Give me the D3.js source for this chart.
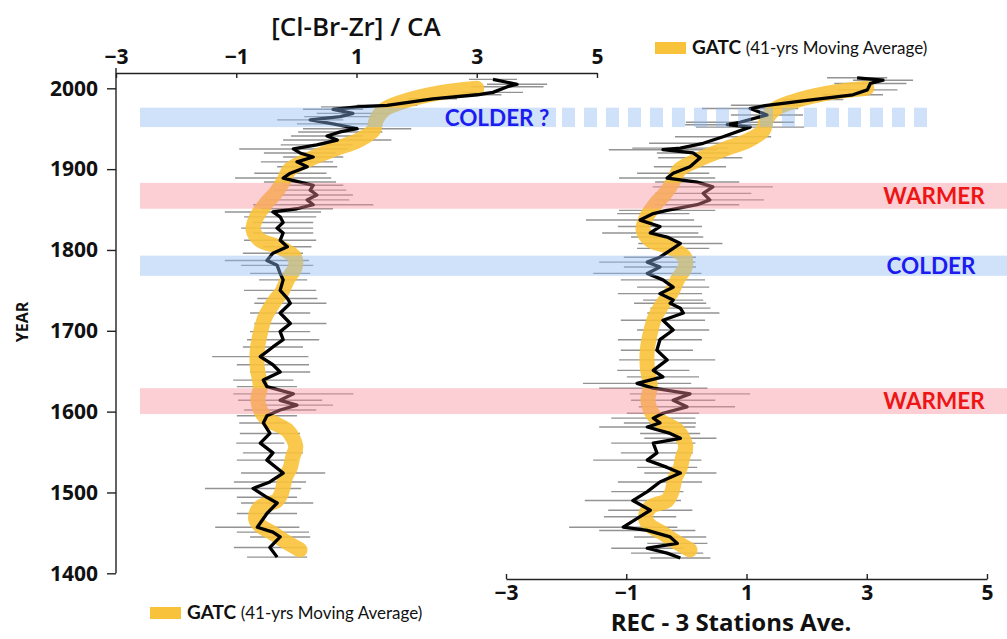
<!DOCTYPE html>
<html><head><meta charset="utf-8">
<script src="https://cdn.jsdelivr.net/npm/d3@7"></script>
<style>
html,body{margin:0;padding:0;background:#fff;}
svg{display:block;font-family:"Open Sans",Lato,sans-serif;}
</style></head>
<body>
<svg id="chart" width="1007" height="639"></svg>
<script>
// ---------------- data ----------------
const xTicks = [-3, -1, 1, 3, 5];
const yearTicks = [1400, 1500, 1600, 1700, 1800, 1900, 2000];

// [Cl-Br-Zr] / CA reconstruction (left panel)
const leftYears = [1420,1432,1445,1451,1457,1474,1487,1494,1505,1513,
  1524,1540,1549,1561,1573,1586,1595,1602,1608,1614,
  1622,1631,1639,1649,1658,1668,1680,1689,1699,1709,
  1722,1734,1740,1750,1763,1771,1781,1787,1796,1804,
  1812,1821,1827,1834,1841,1847,1851,1856,1862,1868,
  1874,1880,1884,1889,1895,1903,1909,1915,1920,1925,
  1930,1936,1941,1946,1950,1956,1961,1965,1969,1974,
  1977,1979,1987,1992,1995,2002,2005,2011];
const leftValues = [-0.32,-0.44,-0.27,-0.39,-0.65,-0.49,-0.32,-0.49,-0.72,-0.44,
  -0.22,-0.49,-0.39,-0.60,-0.44,-0.55,-0.49,-0.27,0.01,-0.27,
  -0.05,-0.49,-0.55,-0.27,-0.39,-0.60,-0.39,-0.22,-0.27,-0.10,
  -0.27,-0.10,-0.15,-0.27,-0.22,-0.27,-0.32,-0.49,-0.39,-0.15,
  -0.27,-0.22,-0.32,-0.22,-0.27,-0.39,0.01,0.28,0.18,0.34,
  0.23,0.28,0.06,-0.22,-0.10,0.18,0.01,0.28,0.06,-0.05,
  0.34,0.68,0.51,0.73,1.01,0.61,0.23,0.73,0.94,0.61,
  1.01,1.51,2.27,3.01,3.27,3.51,3.67,3.27];
const leftErr = [0.5,0.6,0.5,0.6,0.7,0.5,0.6,0.5,0.8,0.6,
  0.7,0.5,0.5,0.4,0.5,0.4,0.5,0.6,0.6,0.7,
  1.0,0.5,0.5,0.5,0.6,0.8,0.5,0.6,0.5,0.6,
  0.5,0.6,0.5,0.6,0.4,0.5,0.6,0.7,0.5,0.4,
  0.6,0.5,0.6,0.5,0.6,0.8,0.6,1.0,0.7,0.6,
  0.6,0.5,0.6,0.8,0.6,0.5,0.6,0.5,0.6,0.9,
  0.6,0.9,0.6,0.7,0.9,0.6,0.55,0.6,0.6,0.5,
  0.6,0.5,0.4,0.4,0.5,0.6,0.5,0.4];

// REC - 3 Stations Ave. (right panel)
const rightYears = [1419,1425,1431,1437,1445,1453,1457,1470,1478,1490,
  1501,1513,1524,1531,1540,1549,1561,1567,1573,1581,
  1586,1592,1598,1606,1614,1622,1629,1635,1643,1651,
  1664,1676,1689,1701,1713,1722,1728,1734,1738,1746,
  1754,1763,1771,1779,1785,1791,1802,1808,1816,1821,
  1829,1837,1845,1849,1856,1862,1870,1878,1884,1889,
  1895,1903,1914,1920,1924,1926,1932,1940,1952,1955,
  1958,1967,1975,1979,1986,1992,1998,2006,2010,2013];
const rightValues = [-0.10,-0.32,-0.65,-0.15,-0.27,-0.65,-1.05,-0.77,-0.60,-0.89,
  -0.65,-0.44,-0.10,-0.32,-0.65,-0.49,-0.55,-0.10,-0.27,-0.65,
  -0.44,-0.55,-0.39,0.01,-0.22,0.06,-0.55,-0.82,-0.39,-0.55,
  -0.32,-0.49,-0.44,-0.22,-0.39,-0.05,-0.10,-0.27,-0.22,-0.44,
  -0.22,-0.39,-0.65,-0.44,-0.65,-0.44,-0.22,-0.10,-0.32,-0.60,
  -0.44,-0.77,-0.55,-0.32,0.18,0.39,0.28,0.44,0.18,-0.32,
  -0.22,0.06,0.23,0.11,-0.39,-0.10,0.28,0.61,1.06,0.68,
  0.89,1.34,1.06,1.34,2.11,2.77,3.01,3.06,3.27,2.84];
const rightErr = [0.5,0.6,0.6,0.5,0.6,0.8,0.9,0.6,0.7,0.8,
  0.6,0.7,0.6,0.5,0.9,0.6,0.7,0.6,0.5,0.8,
  0.6,0.7,0.6,0.8,0.7,1.0,0.9,0.9,0.6,0.6,
  0.8,0.6,0.7,0.6,0.7,0.6,0.5,0.6,0.5,0.7,
  0.6,0.7,0.9,0.6,0.8,0.6,0.6,0.7,0.6,0.8,
  0.7,0.9,0.6,0.8,0.7,0.9,0.8,1.0,0.7,0.8,
  0.6,0.6,0.7,0.6,0.9,0.8,0.9,0.8,0.9,0.7,
  0.9,0.6,0.8,0.6,0.5,0.5,0.5,0.6,0.5,0.5];

// GATC (41-yrs Moving Average)
const gatcYears = [1429,1441,1450,1460,1469,1482,1490,1499,1519,1531,
  1544,1556,1566,1577,1593,1614,1630,1655,1676,1697,
  1717,1738,1747,1763,1779,1791,1804,1812,1825,1841,
  1858,1870,1887,1899,1911,1924,1936,1948,1961,1973,
  1983,1994,2000];
const gatcValues = [0.06,-0.22,-0.40,-0.62,-0.68,-0.60,-0.32,-0.25,-0.18,-0.10,
  -0.06,-0.01,-0.05,-0.15,-0.52,-0.64,-0.60,-0.65,-0.65,-0.60,
  -0.52,-0.35,-0.25,-0.15,-0.02,-0.03,-0.30,-0.60,-0.72,-0.66,
  -0.50,-0.35,-0.20,-0.12,0.18,0.61,1.04,1.28,1.33,1.45,
  1.75,2.35,3.0];

// annotated periods
const bandLabels = ["COLDER ?", "WARMER", "COLDER", "WARMER"];
const bandStart = [1952, 1851, 1768, 1597];
const bandEnd   = [1976, 1883, 1793, 1629];
const bandKind  = ["cold", "warm", "cold", "warm"];

// ---------------- layout ----------------
const svg = d3.select("#chart");
const y = d3.scaleLinear().domain([1400, 2000]).range([573.3, 88.3]);
const xL = d3.scaleLinear().domain([-3, 5]).range([116, 597]);
const xR = d3.scaleLinear().domain([-3, 5]).range([506, 987]);

const pack = (ys, vs, es) => ys.map((yr, i) => ({year: yr, v: vs[i], e: es ? es[i] : 0}));
const leftData = pack(leftYears, leftValues, leftErr);
const rightData = pack(rightYears, rightValues, rightErr);
const gatcData = pack(gatcYears, gatcValues);

const COLORS = {
  gatc: "#f8c23a", err: "#6f6f6f", line: "#000",
  coldBand: "rgb(140,186,240)", warmBand: "rgb(245,140,150)",
  coldText: "#1c1cf0", warmText: "#ee1515"
};

function drawPanel(x, data) {
  const g = svg.append("g");
  g.selectAll("line.err").data(data).join("line")
    .attr("x1", d => x(d.v - d.e)).attr("x2", d => x(d.v + d.e))
    .attr("y1", d => y(d.year)).attr("y2", d => y(d.year))
    .attr("stroke", COLORS.err).attr("stroke-width", 1.4).attr("opacity", 0.75);
  g.append("path").datum(gatcData)
    .attr("d", d3.line().x(d => x(d.v)).y(d => y(d.year)).curve(d3.curveCatmullRom.alpha(0.5)))
    .attr("fill", "none").attr("stroke", COLORS.gatc).attr("stroke-width", 15)
    .attr("stroke-linecap", "round").attr("stroke-linejoin", "round").attr("opacity", 0.9);
  g.append("path").datum(data)
    .attr("d", d3.line().x(d => x(d.v)).y(d => y(d.year)))
    .attr("fill", "none").attr("stroke", COLORS.line).attr("stroke-width", 3.3)
    .attr("stroke-linejoin", "round");
}
drawPanel(xL, leftData);
drawPanel(xR, rightData);

// bands (semi-transparent overlays)
const bandG = svg.append("g");
bandStart.forEach((s, i) => {
  const y0 = y(bandEnd[i]), y1 = y(s);
  const col = bandKind[i] === "cold" ? COLORS.coldBand : COLORS.warmBand;
  if (i === 0) {
    bandG.append("rect").attr("x", 140).attr("y", y0).attr("width", 556 - 140).attr("height", y1 - y0)
      .attr("fill", col).attr("opacity", 0.42);
    d3.range(562, 920, 22).forEach(px => {
      bandG.append("rect").attr("x", px).attr("y", y0).attr("width", 13).attr("height", y1 - y0)
        .attr("fill", col).attr("opacity", 0.42);
    });
  } else {
    bandG.append("rect").attr("x", 140).attr("y", y0).attr("width", 1007 - 140).attr("height", y1 - y0)
      .attr("fill", col).attr("opacity", 0.42);
  }
});
const labelX = [497, 934, 931, 934];
bandLabels.forEach((t, i) => {
  svg.append("text").attr("x", labelX[i]).attr("y", (y(bandStart[i]) + y(bandEnd[i])) / 2)
    .attr("dy", "0.36em").attr("text-anchor", "middle")
    .attr("font-family", "Lato, 'Open Sans', sans-serif").attr("font-weight", 700).attr("font-size", 22.5)
    .attr("fill", bandKind[i] === "cold" ? COLORS.coldText : COLORS.warmText)
    .text(t);
});

// ---------------- axes ----------------
const tickFont = sel => sel.selectAll("text")
  .attr("font-family", "'Open Sans', sans-serif").attr("font-weight", 700)
  .attr("font-size", 21).attr("fill", "#111");

svg.append("line").attr("x1", 116).attr("x2", 116).attr("y1", 68).attr("y2", y(1400))
  .attr("stroke", "#222").attr("stroke-width", 1.4);
const gy = svg.append("g").attr("transform", "translate(116,0)")
  .call(d3.axisLeft(y).tickValues(yearTicks).tickFormat(d3.format("d")).tickSize(9).tickPadding(9));
gy.select(".domain").remove();
gy.selectAll("line").attr("stroke", "#222").attr("stroke-width", 1.4);
tickFont(gy);

const gt = svg.append("g").attr("transform", "translate(0,73)")
  .call(d3.axisTop(xL).tickValues(xTicks).tickFormat(d3.format("d")).tickSize(-5).tickSizeOuter(0).tickPadding(9));
gt.select(".domain").attr("stroke", "#222").attr("stroke-width", 1.4);
gt.selectAll("line").attr("stroke", "#222").attr("stroke-width", 1.4);
tickFont(gt);

const gb = svg.append("g").attr("transform", "translate(0,579)")
  .call(d3.axisBottom(xR).tickValues(xTicks).tickFormat(d3.format("d")).tickSize(-5).tickSizeOuter(0).tickPadding(6));
gb.select(".domain").attr("stroke", "#222").attr("stroke-width", 1.4);
gb.selectAll("line").attr("stroke", "#222").attr("stroke-width", 1.4);
tickFont(gb);

svg.append("text").attr("x", 356).attr("y", 36).attr("text-anchor", "middle")
  .attr("font-family", "'Open Sans', sans-serif").attr("font-weight", 600).attr("font-size", 26)
  .attr("fill", "#111").text("[Cl-Br-Zr] / CA");
svg.append("text").attr("x", 731).attr("y", 631).attr("text-anchor", "middle")
  .attr("font-family", "'Open Sans', sans-serif").attr("font-weight", 700).attr("font-size", 24)
  .attr("fill", "#111").text("REC - 3 Stations Ave.");
svg.append("text").attr("transform", "translate(22,322) rotate(-90)").attr("text-anchor", "middle")
  .attr("dy", "0.35em")
  .attr("font-family", "'Open Sans', sans-serif").attr("font-weight", 700).attr("font-size", 16)
  .attr("fill", "#111").text("YEAR");

function legend(x0, yMid) {
  svg.append("rect").attr("x", x0).attr("y", yMid - 6).attr("width", 31).attr("height", 12)
    .attr("fill", COLORS.gatc);
  const t = svg.append("text").attr("x", x0 + 37).attr("y", yMid).attr("dy", "0.36em")
    .attr("font-family", "Lato, 'Open Sans', sans-serif").attr("fill", "#111");
  t.append("tspan").attr("font-weight", 700).attr("font-size", 19).text("GATC ");
  t.append("tspan").attr("font-size", 17).text("(41-yrs Moving Average)");
}
legend(655, 48);
legend(150, 613);
</script>
</body></html>
